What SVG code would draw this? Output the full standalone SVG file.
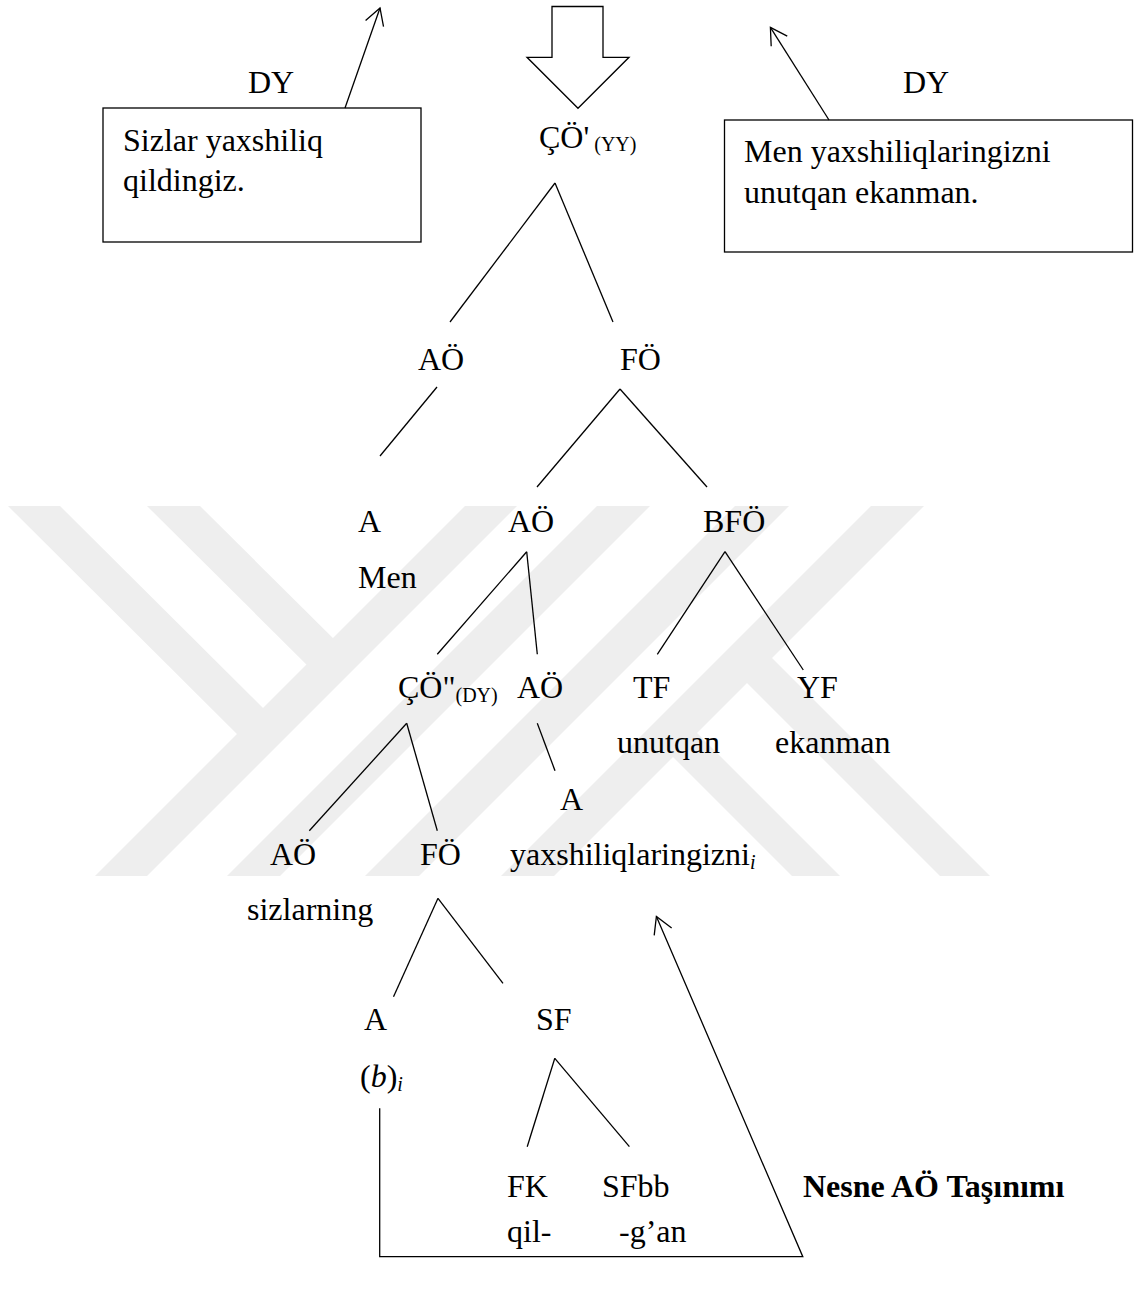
<svg xmlns="http://www.w3.org/2000/svg" width="1134" height="1295" viewBox="0 0 1134 1295">
  <style>
    .t { font-family: "Liberation Serif", "Times New Roman", serif; font-size: 32px; fill: #000; }
    .s { font-size: 20px; }
    .i { font-style: italic; }
    .b { font-weight: bold; }
    .ln { stroke: #000; stroke-width: 1.3; fill: none; }
    .box { stroke: #000; stroke-width: 1.3; fill: #fff; }
    .wm { fill: #eeeeee; }
  </style>
  <defs>
    <marker id="open" viewBox="-20 -12 22 24" refX="0" refY="0" markerWidth="22" markerHeight="24" orient="auto" markerUnits="userSpaceOnUse">
      <path d="M-16.5,-9.5 L0,0 L-16.5,9.5" fill="none" stroke="#000" stroke-width="1.3"/>
    </marker>
  </defs>
  <rect width="1134" height="1295" fill="#fff"/>

  <!-- faint background emblem made of 45-degree bands -->
  <g id="watermark" class="wm">
    <polygon points="8,506 60,506 275.5,720.5 249.5,746.5"/>
    <polygon points="147,506 200,506 345.5,650.5 319,677"/>
    <polygon points="465,506 517,506 147,876 95,876"/>
    <polygon points="597,506 650,506 280,876 227,876"/>
    <polygon points="735,506 789,506 419,876 365,876"/>
    <polygon points="871,506 924,506 554,876 501,876"/>
    <polygon points="659.5,743.5 683.5,719.5 840,876 792,876"/>
    <polygon points="733.5,669.5 758.5,644.5 990,876 940,876"/>
  </g>

  <!-- clause boxes and their arrows -->
  <g id="box-left">
    <rect class="box" x="103" y="108" width="318" height="134"/>
    <text class="t" x="123" y="151">Sizlar yaxshiliq</text>
    <text class="t" x="123" y="191">qildingiz.</text>
  </g>
  <g id="box-right">
    <rect class="box" x="724.5" y="120" width="408" height="132"/>
    <text class="t" x="744" y="162">Men yaxshiliqlaringizni</text>
    <text class="t" x="744" y="203">unutqan ekanman.</text>
  </g>
  <g id="label-dy-left"><text class="t" x="248" y="93">DY</text></g>
  <g id="label-dy-right"><text class="t" x="903" y="93">DY</text></g>
  <g id="insert-arrow">
    <polygon class="ln" stroke-width="1.5" points="552,6.5 603,6.5 603,57.3 629,57.3 578,108.3 527,57.3 552,57.3"/>
  </g>

  <!-- tree nodes -->
  <g id="n-root"><text class="t" x="539" y="148">ÇÖ'<tspan class="s" dy="3"> (YY)</tspan></text></g>
  <g id="n-ao1"><text class="t" x="418" y="370">AÖ</text></g>
  <g id="n-fo1"><text class="t" x="620" y="370">FÖ</text></g>
  <g id="n-a1"><text class="t" x="358" y="532">A</text><text class="t" x="358" y="588">Men</text></g>
  <g id="n-ao2"><text class="t" x="508" y="532">AÖ</text></g>
  <g id="n-bfo"><text class="t" x="703" y="532">BFÖ</text></g>
  <g id="n-co2"><text class="t" x="398" y="698">ÇÖ"<tspan class="s" dy="4">(DY)</tspan></text></g>
  <g id="n-ao3"><text class="t" x="517" y="698">AÖ</text></g>
  <g id="n-tf"><text class="t" x="633" y="698">TF</text><text class="t" x="617" y="753">unutqan</text></g>
  <g id="n-yf"><text class="t" x="797" y="698">YF</text><text class="t" x="775" y="753">ekanman</text></g>
  <g id="n-a2"><text class="t" x="560" y="810">A</text><text class="t" x="510" y="865">yaxshiliqlaringizni<tspan class="s i" dy="4">i</tspan></text></g>
  <g id="n-ao4"><text class="t" x="270" y="865">AÖ</text><text class="t" x="247" y="920">sizlarning</text></g>
  <g id="n-fo2"><text class="t" x="420" y="865">FÖ</text></g>
  <g id="n-a3"><text class="t" x="364" y="1030">A</text><text class="t" x="360" y="1087">(<tspan class="i">b</tspan>)<tspan class="s i" dy="4">i</tspan></text></g>
  <g id="n-sf"><text class="t" x="536" y="1030">SF</text></g>
  <g id="n-fk"><text class="t" x="507" y="1197">FK</text><text class="t" x="507" y="1242">qil-</text></g>
  <g id="n-sfbb"><text class="t" x="602" y="1197">SFbb</text><text class="t" x="619" y="1242">-g’an</text></g>
  <g id="label-move"><text class="t b" x="803" y="1197">Nesne AÖ Taşınımı</text></g>

  <!-- branches and arrows -->
  <g id="connectors" class="ln">
    <line x1="345" y1="108" x2="380" y2="8" marker-end="url(#open)"/>
    <line x1="829" y1="120" x2="770.4" y2="27.3" marker-end="url(#open)"/>
    <polyline points="555,183 450,322"/>
    <polyline points="555,183 613,322"/>
    <polyline points="437,387 380,456"/>
    <polyline points="620,389 537,487"/>
    <polyline points="620,389 707,487"/>
    <polyline points="526.7,551.7 437.3,654.3"/>
    <polyline points="526.7,551.7 537.3,654.3"/>
    <polyline points="725,551.7 657.3,654.3"/>
    <polyline points="725,551.7 803.3,670"/>
    <polyline points="406.7,723.3 309.3,830.7"/>
    <polyline points="406.7,723.3 437.3,830.7"/>
    <polyline points="537.3,723.3 555,770.7"/>
    <polyline points="438,898.3 393.5,996.7"/>
    <polyline points="438,898.3 503,983.3"/>
    <polyline points="554.8,1058.3 527.2,1146.7"/>
    <polyline points="554.8,1058.3 629.4,1146.7"/>
    <polyline points="379.7,1108.3 379.7,1256.7 802.8,1256.7 656.4,916.5" marker-end="url(#open)"/>
  </g>
</svg>
